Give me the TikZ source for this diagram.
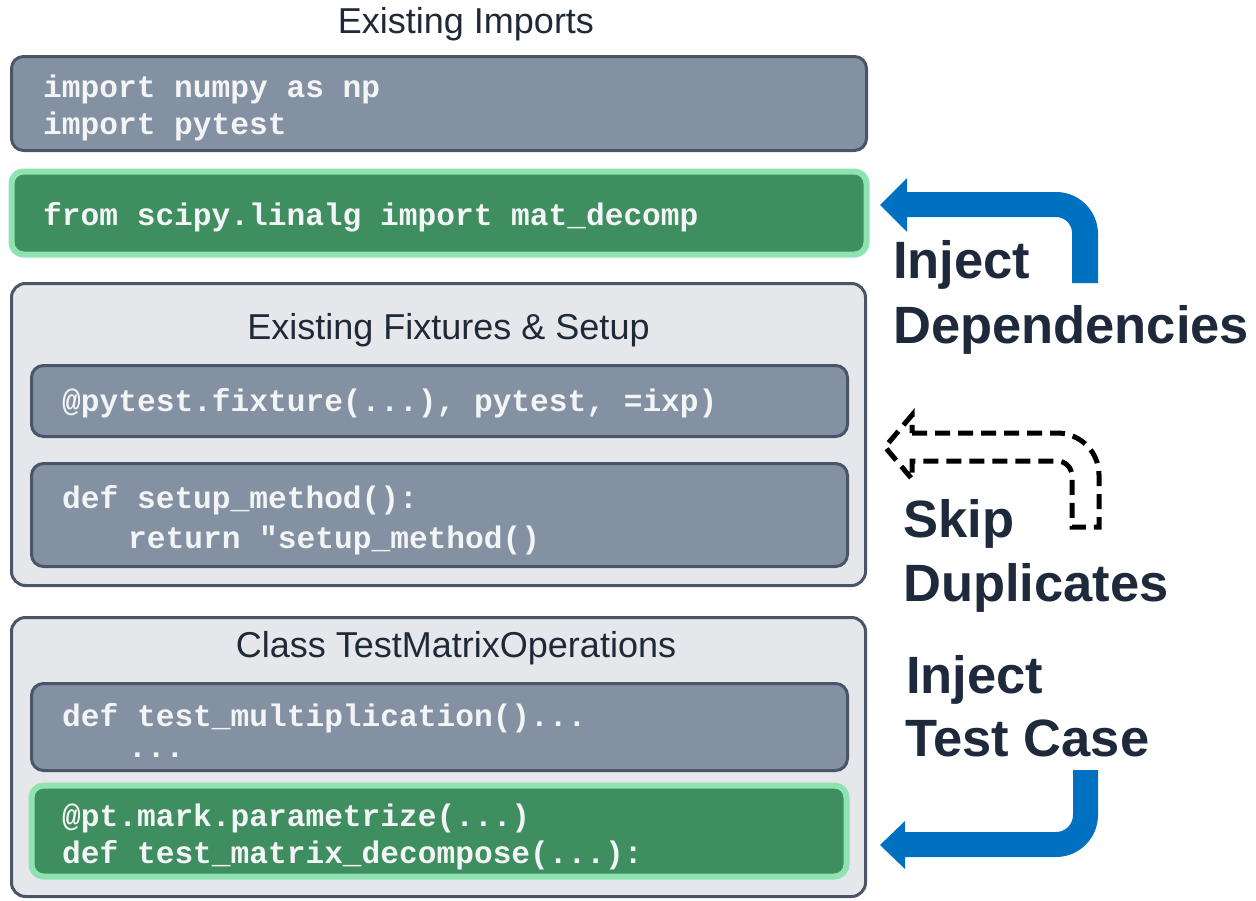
\documentclass[tikz,border=0pt]{standalone}
\usepackage{fontspec}
\setmainfont{Liberation Sans}
\newfontfamily\codefont{Liberation Mono}
\definecolor{codegray}{HTML}{8391A2}
\definecolor{boxedge}{HTML}{4A5568}
\definecolor{newgreen}{HTML}{3F8E5F}
\definecolor{newedge}{HTML}{8FE3B0}
\definecolor{groupfill}{HTML}{E5E7EB}
\definecolor{titlecol}{HTML}{1F2937}
\definecolor{labelcol}{HTML}{1E293B}
\definecolor{flowblue}{HTML}{0070C0}
\definecolor{codetext}{HTML}{F3F4F6}
\begin{document}
\begin{tikzpicture}[x=1pt,y=1pt,
  codebox/.style={draw=boxedge, line width=3pt, fill=codegray, rounded corners=12pt, inner sep=0pt},
  newbox/.style={draw=newedge, line width=6pt, fill=newgreen, rounded corners=12pt, inner sep=0pt},
  groupbox/.style={draw=boxedge, line width=3pt, fill=groupfill, rounded corners=14pt, inner sep=0pt},
  codetxt/.style={anchor=base west, inner sep=0pt, text=codetext, font=\codefont\bfseries\fontsize{31.2}{36}\selectfont},
  titletxt/.style={anchor=base, inner sep=0pt, text=titlecol, font=\fontsize{36}{40}\selectfont},
  steplabel/.style={anchor=base west, inner sep=0pt, text=labelcol, font=\bfseries\fontsize{52.5}{60}\selectfont},
  bluearrow/.style={fill=flowblue, draw=none},
  skiparrow/.style={draw=black, line width=5pt, dash pattern=on 15pt off 8pt, line join=miter}
]
\useasboundingbox (0,0) rectangle (1256,-900);

% ---- imports ----
\node[titletxt] (tImports) at (466,-33) {Existing Imports};
\node[codebox, minimum width=855pt, minimum height=94pt] (imports) at (439,-103.5) {};
\node[codetxt] (imp1) at (43,-97) {import numpy as np};
\node[codetxt] (imp2) at (43,-134) {import pytest};

\node[newbox, minimum width=855pt, minimum height=83pt] (newimport) at (439,-213) {};
\node[codetxt] (imp3) at (43,-225) {from scipy.linalg import mat\_decomp};

% ---- fixtures ----
\node[groupbox, minimum width=854pt, minimum height=302pt] (fixtures) at (438.5,-434.5) {};
\node[titletxt] (tFixtures) at (448.5,-339) {Existing Fixtures \& Setup};
\node[codebox, minimum width=816pt, minimum height=71pt] (fixA) at (439.5,-401) {};
\node[codetxt] (fixAtxt) at (62,-411) {@pytest.fixture(...), pytest, =ixp)};
\node[codebox, minimum width=816pt, minimum height=103pt] (fixB) at (439.5,-515) {};
\node[codetxt] (fixB1) at (62,-508) {def setup\_method():};
\node[codetxt] (fixB2) at (128,-548) {return "setup\_method()};

% ---- test class ----
\node[groupbox, minimum width=854pt, minimum height=279pt] (testclass) at (438.5,-757) {};
\node[titletxt] (tClass) at (456,-657) {Class TestMatrixOperations};
\node[codebox, minimum width=816pt, minimum height=87pt] (testC) at (439.5,-727) {};
\node[codetxt] (testC1) at (62,-726) {def test\_multiplication()...};
\node[codetxt] (testC2) at (128,-757) {...};
\node[newbox, minimum width=815pt, minimum height=91pt] (testD) at (439,-831) {};
\node[codetxt] (testD1) at (62,-826) {@pt.mark.parametrize(...)};
\node[codetxt] (testD2) at (62,-863) {def test\_matrix\_decompose(...):};

% ---- side arrows ----
\coordinate (tipDeps) at (880,-205);
\coordinate (tipSkip) at (885,-447);
\coordinate (tipTest) at (880,-845);

% inject dependencies: bent block arrow into the new import box
\fill[bluearrow] (907,-192) -- (1056,-192) arc(90:0:42pt) -- (1098,-283) -- (1072,-283)
  -- (1072,-233) arc(0:90:16pt) -- (907,-217) -- (907,-232) -- (tipDeps) -- (907,-178) -- cycle;

% skip duplicates: dashed outline of the same arrow
\draw[skiparrow] (912,-433) -- (1057,-433) arc(90:0:42pt) -- (1099,-527) -- (1072,-527)
  -- (1072,-476) arc(0:90:15pt) -- (912,-461) -- (912,-479) -- (tipSkip) -- (912,-415) -- cycle;

% inject test case: bent block arrow into the new test box
\fill[bluearrow] (1073,-770) -- (1098,-770) -- (1098,-815) arc(0:-90:42pt) -- (905,-857)
  -- (905,-869) -- (tipTest) -- (905,-821) -- (905,-832) -- (1056,-832) arc(-90:0:17pt) -- cycle;

% ---- labels ----
\node[steplabel] (lInject1) at (893,-278) {Inject};
\node[steplabel] (lDeps) at (893,-343) {Dependencies};
\node[steplabel] (lSkip) at (903,-537) {Skip};
\node[steplabel] (lDup) at (903,-601) {Duplicates};
\node[steplabel] (lInject2) at (906,-693) {Inject};
\node[steplabel] (lTest) at (905,-756) {Test Case};
\end{tikzpicture}
\end{document}
